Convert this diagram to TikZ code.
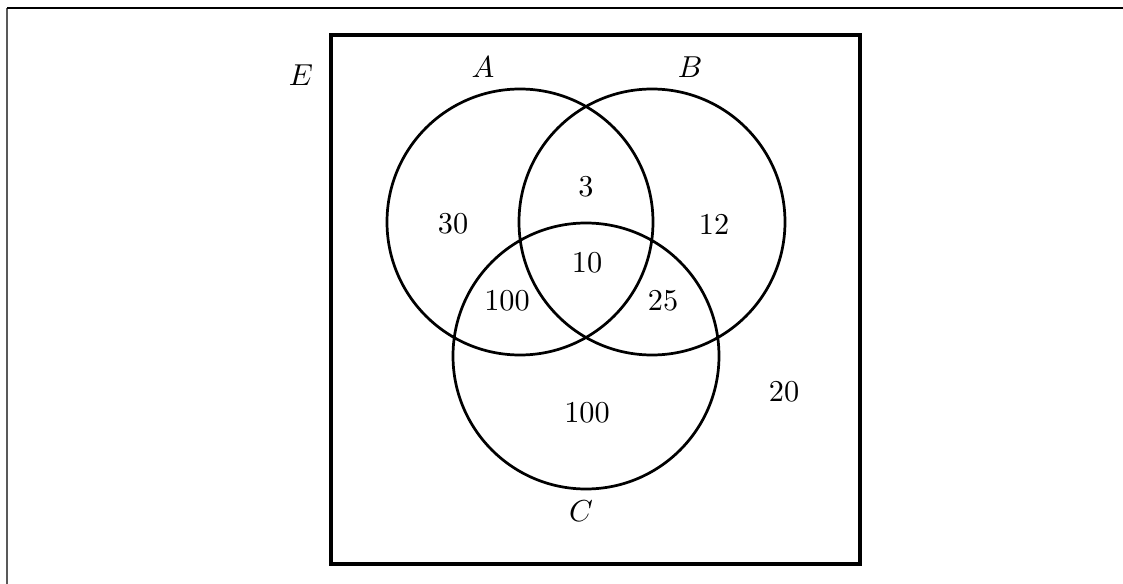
\documentclass[tikz,border=0pt]{standalone}
\begin{document}
\begin{tikzpicture}[x=0.33pt,y=-0.33pt,
  setcircle/.style={line width=0.9pt},
  lbl/.style={inner sep=0pt, font=\normalsize},
  uni/.style={line width=1.6pt}]
\useasboundingbox (0,0) rectangle (1123,584);
% page frame
\coordinate (fl) at (7,584);
\coordinate (ft) at (7,8);
\coordinate (fr) at (1123,8);
\draw[gray!70!black, line width=0.45pt] (fl) -- (ft);
\draw[black, line width=0.45pt] (ft) -- (fr);
% universal set
\draw[uni] (331,35) rectangle (860,564);
% circles
\draw[setcircle] (520,222) circle[radius=133];
\draw[setcircle] (652,222) circle[radius=133];
\draw[setcircle] (586,356) circle[radius=133];
% labels
\node[lbl] (E) at (301,75) {$E$};
\node[lbl] (A) at (483,67) {$A$};
\node[lbl] (B) at (690,67) {$B$};
\node[lbl] (C) at (581,511) {$C$};
\node[lbl] (n30) at (453,224) {30};
\node[lbl] (n3) at (586,187) {3};
\node[lbl] (n12) at (714,224) {12};
\node[lbl] (n10) at (587,263) {10};
\node[lbl] (n100a) at (507,301) {100};
\node[lbl] (n25) at (663,301) {25};
\node[lbl] (n100b) at (587,413) {100};
\node[lbl] (n20) at (784,392) {20};
\end{tikzpicture}
\end{document}
